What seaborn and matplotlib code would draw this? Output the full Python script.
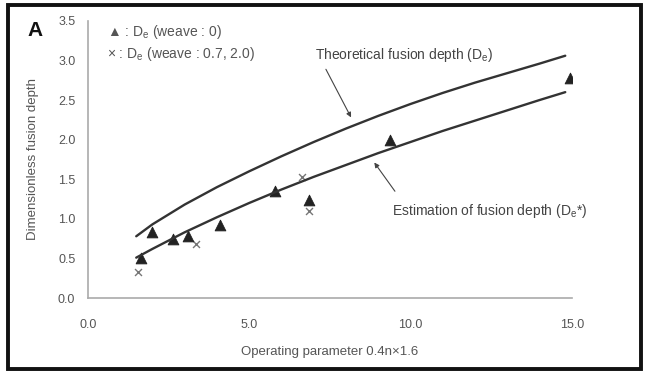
import numpy as np
import pandas as pd
import matplotlib
matplotlib.use("Agg")
import matplotlib.pyplot as plt
from matplotlib.patches import Rectangle
import seaborn as sns

# valores
x_tri = [1.64, 1.98, 2.63, 3.10, 4.09, 5.79, 6.85, 9.36, 14.94]
y_tri = [0.51, 0.83, 0.75, 0.78, 0.92, 1.35, 1.24, 1.99, 2.78]

x_cruz = [1.55, 3.35, 6.63, 6.85]
y_cruz = [0.33, 0.68, 1.53, 1.10]

x_curva = [1.5, 2, 3, 4, 5, 6, 7, 8, 9, 10, 11, 12, 13, 14, 14.8]
y_teorica = [0.78, 0.93, 1.18, 1.40, 1.60, 1.79, 1.97, 2.14, 2.30, 2.45, 2.59, 2.72, 2.84, 2.96, 3.06]
y_estimada = [0.51, 0.62, 0.83, 1.02, 1.20, 1.37, 1.53, 1.68, 1.83, 1.97, 2.11, 2.24, 2.37, 2.50, 2.60]

xticks = [0.0, 5.0, 10.0, 15.0]
yticks = [0.0, 0.5, 1.0, 1.5, 2.0, 2.5, 3.0, 3.5]

sns.set_style("white")
plt.rcParams['font.family'] = ['Liberation Sans', 'DejaVu Sans']

cinza = '#555555'

fig = plt.figure(figsize=(6.46, 3.73), dpi=100)
ax = fig.add_axes([0.136, 0.201, 0.749, 0.743])

df_curva = pd.DataFrame({'x': x_curva, 'teorica': y_teorica, 'estimada': y_estimada})
sns.lineplot(data=df_curva, x='x', y='teorica', ax=ax, color='#333333', lw=1.7)
sns.lineplot(data=df_curva, x='x', y='estimada', ax=ax, color='#333333', lw=1.7)

sns.scatterplot(x=x_cruz, y=y_cruz, ax=ax, marker='x', color='#777777', s=25, linewidth=1.0)
sns.scatterplot(x=x_tri, y=y_tri, ax=ax, marker='^', color='#222222', s=60, edgecolor='#222222')

ax.set_xlim(0, 15)
ax.set_ylim(0, 3.5)
ax.set_xticks(xticks)
ax.set_yticks(yticks)
ax.set_xticklabels([f'{v:.1f}' for v in xticks])
ax.set_yticklabels([f'{v:.1f}' for v in yticks])
ax.tick_params(direction='in', length=3, color='#999999', labelsize=9, labelcolor=cinza)
ax.tick_params(axis='x', pad=15)
ax.tick_params(axis='y', pad=9)

for lado in ['top', 'right']:
    ax.spines[lado].set_visible(False)
for lado in ['left', 'bottom']:
    ax.spines[lado].set_color('#aaaaaa')
    ax.spines[lado].set_linewidth(1.2)

ax.set_xlabel('Operating parameter 0.4n\u00d71.6', fontsize=9.5, color=cinza, labelpad=11)
ax.set_ylabel('Dimensionless fusion depth', fontsize=9.5, color=cinza, labelpad=14)

# legenda em texto
ax.text(0.60, 3.36, '\u25b2 : D$_\\mathregular{e}$ (weave : 0)', fontsize=10, color=cinza, va='center')
ax.text(0.60, 3.08, '\u00d7 : D$_\\mathregular{e}$ (weave : 0.7, 2.0)', fontsize=10, color=cinza, va='center')

# anotacoes
ax.text(7.03, 3.07, r'Theoretical fusion depth (D$_\mathregular{e}$)', fontsize=10, color='#444444', va='center')
ax.annotate('', xy=(8.20, 2.25), xytext=(7.34, 2.92),
            arrowprops=dict(arrowstyle='-|>', color='#444444', lw=0.8, mutation_scale=7))
ax.text(9.42, 1.10, r'Estimation of fusion depth (D$_\mathregular{e}$*)', fontsize=10, color='#444444', va='center')
ax.annotate('', xy=(8.83, 1.74), xytext=(9.57, 1.32),
            arrowprops=dict(arrowstyle='-|>', color='#444444', lw=0.8, mutation_scale=7))

fig.text(35 / 646, 1 - 30 / 373, 'A', fontsize=15, fontweight='bold', color='#111111', va='center', ha='center')

fig.patches.append(Rectangle((8 / 646, 4 / 373), 633 / 646, 364 / 373, transform=fig.transFigure,
                             fill=False, edgecolor='#111111', linewidth=2.8))

fig.savefig('out.png', dpi=100)
